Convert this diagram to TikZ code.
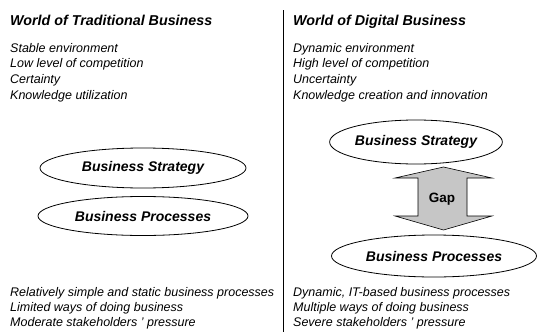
\documentclass[tikz,border=0pt]{standalone}
\usepackage{fontspec}
\setmainfont{Liberation Sans}
\usepackage{tikz}
\usetikzlibrary{
	shapes.geometric,
	positioning
}

\begin{document}
\begin{tikzpicture}[x=1pt,y=-1pt,
		heading/.style={anchor=base west,inner sep=0pt,font=\fontsize{14.3}{17}\selectfont\bfseries\itshape},
		items/.style={anchor=north west,inner sep=0pt,align=left,font=\fontsize{12.5}{15.7}\selectfont\itshape},
		goal/.style={ellipse,draw,line width=0.8pt,inner sep=0pt,font=\fontsize{14}{16}\selectfont\bfseries\itshape},
		gaparrow/.style={draw,fill=gray!45,line width=0.6pt}
	]
		\useasboundingbox (0,0) rectangle (538,332);

		% divider
		\draw[line width=0.8pt] (283,10) coordinate (top) -- (283,332) coordinate (bottom);

		% traditional side
		\node[heading] (tradhead) at (10,25) {World of Traditional Business};
		\node[items] (tradtop) at (10,43) {Stable environment\\Low level of competition\\Certainty\\Knowledge utilization};
		\node[goal,minimum width=206pt,minimum height=40pt] (tradstrat) at (143,168) {Business Strategy};
		\node[goal,minimum width=210pt,minimum height=39pt] (tradproc) at (143,216) {Business Processes};
		\node[items,font=\fontsize{12.5}{15}\selectfont\itshape] (tradbot) at (10,287) {Relatively simple and static business processes\\Limited ways of doing business\\Moderate stakeholders ' pressure};

		% digital side
		\node[heading] (dighead) at (293,25) {World of Digital Business};
		\node[items] (digtop) at (293,43) {Dynamic environment\\High level of competition\\Uncertainty\\Knowledge creation and innovation};
		\node[goal,minimum width=168pt,minimum height=44pt] (digstrat) at (416,142) {Business Strategy};
		\node[goal,minimum width=205pt,minimum height=42pt] (digproc) at (434,256) {Business Processes};
		\node[items,font=\fontsize{12.5}{15}\selectfont\itshape] (digbot) at (293,287) {Dynamic, IT-based business processes\\Multiple ways of doing business\\Severe stakeholders ' pressure};

		% gap
		\draw[gaparrow] (443.5,167) -- (492,178) -- (467,178) -- (467,216) -- (492,216)
			-- (443.5,230) -- (395,216) -- (418,216) -- (418,178) -- (395,178) -- cycle;
		\node[font=\fontsize{13.5}{15}\selectfont\bfseries] (gap) at (442,199) {Gap};
	\end{tikzpicture}
\end{document}
